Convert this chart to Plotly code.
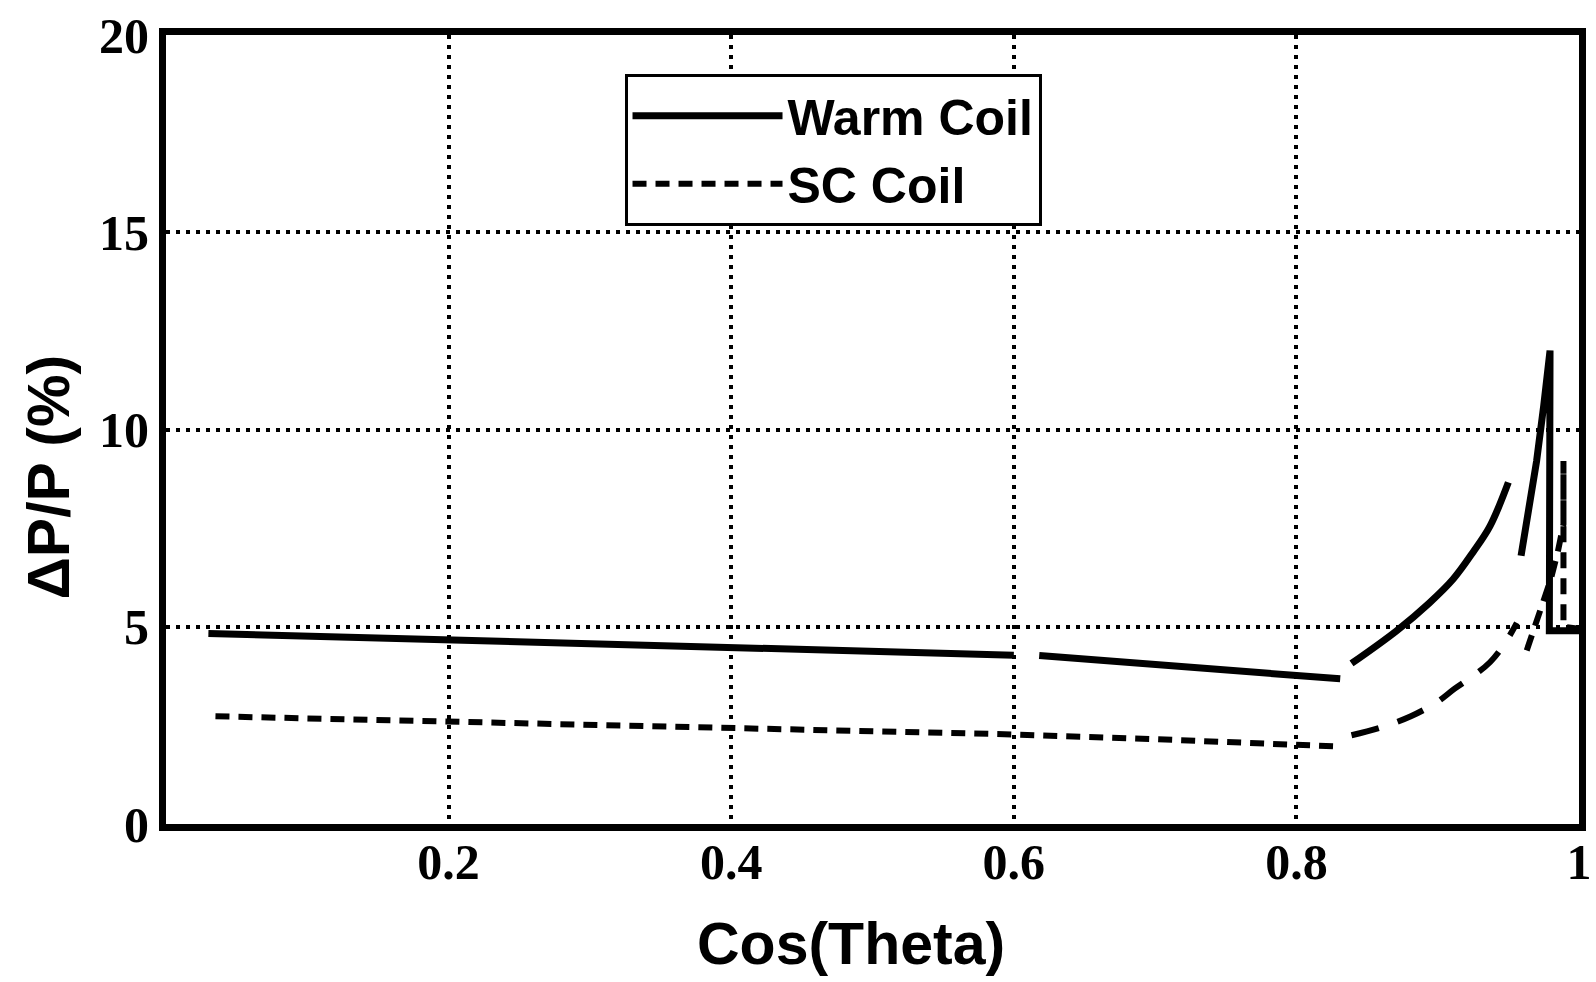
import plotly.graph_objects as go

# ---- data ----
warm_x1 = [0.03, 0.1, 0.2, 0.3, 0.4, 0.5, 0.6]
warm_y1 = [4.83, 4.76, 4.67, 4.59, 4.50, 4.40, 4.28]
warm_x2 = [0.618, 0.7, 0.8, 0.831]
warm_y2 = [4.27, 4.05, 3.77, 3.68]
warm_x3 = [0.839, 0.871, 0.894, 0.911, 0.925, 0.937, 0.950]
warm_y3 = [4.07, 4.90, 5.60, 6.21, 6.89, 7.55, 8.66]
warm_x4 = [0.959, 0.965, 0.970, 0.975, 0.9795, 0.9790, 1.0]
warm_y4 = [6.8, 8.0, 9.2, 10.6, 12.0, 4.9, 4.9]

sc_x1 = [0.035, 0.2, 0.4, 0.6, 0.7, 0.8, 0.826]
sc_y1 = [2.73, 2.60, 2.42, 2.27, 2.15, 2.02, 1.97]
sc_x2 = [0.839, 0.86, 0.881, 0.90, 0.912, 0.925, 0.937, 0.947, 0.956]
sc_y2 = [2.25, 2.45, 2.73, 3.10, 3.43, 3.75, 4.10, 4.55, 5.10]
sc_x3 = [0.963, 0.969, 0.975, 0.980, 0.985, 0.989, 0.989, 0.989, 1.0]
sc_y3 = [4.4, 5.0, 5.6, 6.2, 6.9, 7.6, 9.2, 5.0, 4.95]

x_ticks = [0.2, 0.4, 0.6, 0.8, 1.0]
x_ticktext = ["0.2", "0.4", "0.6", "0.8", "1"]
y_ticks = [0, 5, 10, 15, 20]
y_ticktext = ["0", "5", "10", "15", "20"]

warm_name = "Warm Coil"
sc_name = "SC Coil"
x_title = "Cos(Theta)"
y_title = "\u0394P/P (%)"

# ---- figure ----
fig = go.Figure()

warm_line = dict(color="black", width=7)
for i, (xs, ys) in enumerate([(warm_x1, warm_y1), (warm_x2, warm_y2),
                              (warm_x3, warm_y3), (warm_x4, warm_y4)]):
    fig.add_trace(go.Scatter(x=xs, y=ys, mode="lines",
                             line=dict(warm_line, shape="spline" if i == 2 else "linear"),
                             name=warm_name, legendgroup="warm",
                             showlegend=(i == 0)))

sc_dashes = ["14px,9px", "28px,20px", "16px,10px"]
for i, (xs, ys) in enumerate([(sc_x1, sc_y1), (sc_x2, sc_y2), (sc_x3, sc_y3)]):
    fig.add_trace(go.Scatter(x=xs, y=ys, mode="lines",
                             line=dict(color="black", width=6, dash=sc_dashes[i],
                                       shape="spline" if i == 1 else "linear"),
                             name=sc_name, legendgroup="sc",
                             showlegend=(i == 0)))

tick_font = dict(family="Liberation Serif, Times New Roman, serif", size=50,
                 color="black", weight="bold")
title_font = dict(family="Liberation Sans, Arial, sans-serif", size=59,
                  color="black", weight="bold")

fig.update_xaxes(range=[0, 1], tickvals=x_ticks, ticktext=x_ticktext,
                 showline=True, linewidth=7, linecolor="black", mirror=True,
                 showgrid=True, gridcolor="black", gridwidth=4, griddash="4px,6px",
                 zeroline=False, ticks="", tickfont=tick_font,
                 ticklabelstandoff=-12, automargin=False)
fig.update_yaxes(range=[0, 20], tickvals=y_ticks, ticktext=y_ticktext,
                 showline=True, linewidth=7, linecolor="black", mirror=True,
                 showgrid=True, gridcolor="black", gridwidth=4, griddash="4px,6px",
                 zeroline=False, ticks="", tickfont=tick_font,
                 ticklabelstandoff=0, automargin=False)

fig.update_layout(
    width=1596, height=982,
    margin=dict(l=166, r=17, t=35, b=158),
    paper_bgcolor="white", plot_bgcolor="white",
    showlegend=True,
    legend=dict(x=0.3245, y=0.951, xanchor="left", yanchor="top",
                bgcolor="white", bordercolor="black", borderwidth=3,
                font=dict(family="Liberation Sans, Arial, sans-serif", size=50,
                          color="black", weight="bold"),
                itemwidth=150, tracegroupgap=0),
    annotations=[
        dict(text=x_title, xref="paper", yref="paper", x=0.485, y=-0.152,
             xanchor="center", yanchor="middle", showarrow=False, font=title_font),
        dict(text=y_title, xref="paper", yref="paper", x=-0.083, y=0.44,
             xanchor="center", yanchor="middle", showarrow=False, textangle=-90,
             font=title_font),
    ],
)

fig.write_html("out.html")
